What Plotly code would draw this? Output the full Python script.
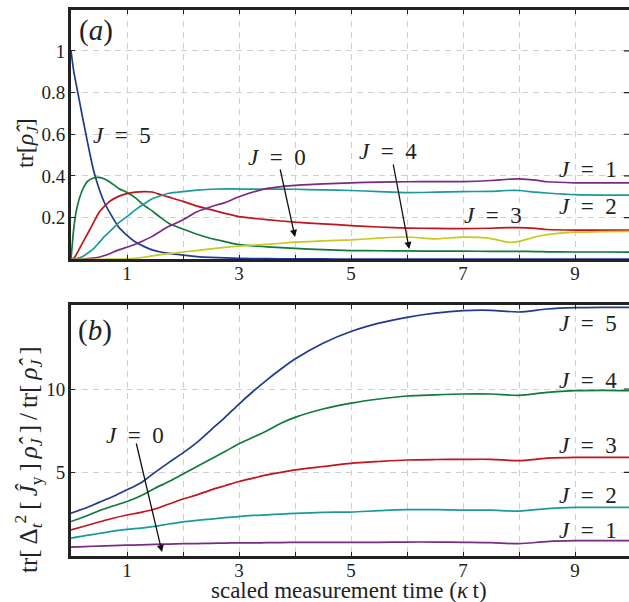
import plotly.graph_objects as go

# ---------------- data: panel (a) ----------------
t_a = [0, 0.05, 0.1, 0.2, 0.3, 0.4, 0.5, 0.6, 0.7, 0.85, 1.0, 1.15, 1.3, 1.45, 1.6, 1.75,
       2.0, 2.25, 2.5, 2.75, 3.0, 3.5, 4.0, 4.5, 5.0, 5.5, 6.0, 6.5, 7.0, 7.5, 7.8, 8.0,
       8.3, 8.5, 9.0, 9.5, 10.0]
tr_J5 = [1.0, 0.9, 0.83, 0.69, 0.555, 0.43, 0.34, 0.27, 0.22, 0.155, 0.115, 0.083, 0.062,
         0.045, 0.035, 0.028, 0.02, 0.013, 0.009, 0.007, 0.005, 0.003, 0.002, 0.002, 0.001,
         0.001, 0.001, 0.001, 0.001, 0.001, 0.001, 0.001, 0.001, 0.001, 0.001, 0.001, 0.001]
tr_J4 = [0.0, 0.15, 0.24, 0.33, 0.375, 0.39, 0.393, 0.385, 0.37, 0.34, 0.32, 0.295, 0.26,
         0.232, 0.2, 0.172, 0.145, 0.12, 0.1, 0.085, 0.07, 0.06, 0.052, 0.046, 0.042, 0.041,
         0.04, 0.039, 0.039, 0.038, 0.038, 0.038, 0.037, 0.036, 0.035, 0.035, 0.034]
tr_J3 = [0.0, 0.005, 0.025, 0.075, 0.125, 0.175, 0.225, 0.255, 0.28, 0.302, 0.315, 0.322,
         0.325, 0.323, 0.31, 0.298, 0.278, 0.255, 0.238, 0.22, 0.205, 0.19, 0.178, 0.17,
         0.162, 0.155, 0.15, 0.148, 0.147, 0.149, 0.152, 0.152, 0.148, 0.143, 0.14, 0.14, 0.14]
tr_J2 = [0.0, 0.0, 0.003, 0.012, 0.03, 0.05, 0.08, 0.11, 0.135, 0.175, 0.205, 0.237, 0.265,
         0.29, 0.305, 0.317, 0.325, 0.332, 0.336, 0.338, 0.337, 0.337, 0.336, 0.333, 0.33,
         0.325, 0.32, 0.322, 0.325, 0.326, 0.33, 0.33, 0.322, 0.318, 0.31, 0.308, 0.308]
tr_J1 = [0.0, 0.0, 0.0, 0.001, 0.003, 0.006, 0.01, 0.018, 0.028, 0.045, 0.058, 0.072, 0.09,
         0.11, 0.135, 0.158, 0.19, 0.228, 0.252, 0.272, 0.3, 0.34, 0.355, 0.362, 0.367, 0.37,
         0.372, 0.373, 0.373, 0.378, 0.384, 0.386, 0.38, 0.372, 0.367, 0.367, 0.367]
tr_J0 = [0.0, 0.0, 0.0, 0.0, 0.0, 0.0, 0.0, 0.0, 0.001, 0.001, 0.002, 0.005, 0.01, 0.016,
         0.022, 0.027, 0.035, 0.042, 0.05, 0.057, 0.063, 0.072, 0.082, 0.088, 0.093, 0.102,
         0.107, 0.098, 0.106, 0.099, 0.082, 0.086, 0.108, 0.118, 0.13, 0.133, 0.134]

# ---------------- data: panel (b) ----------------
t_b = [0, 0.25, 0.5, 0.75, 1.0, 1.25, 1.5, 1.75, 2.0, 2.25, 2.5, 2.75, 3.0, 3.25, 3.5,
       3.75, 4.0, 4.5, 5.0, 5.5, 6.0, 6.5, 7.0, 7.5, 8.0, 8.5, 9.0, 9.5, 10.0]
var_J5 = [2.55, 2.85, 3.2, 3.55, 3.95, 4.38, 5.0, 5.6, 6.17, 6.8, 7.55, 8.3, 9.1, 9.85,
          10.55, 11.2, 11.8, 12.75, 13.45, 13.95, 14.3, 14.55, 14.7, 14.72, 14.62, 14.8,
          14.88, 14.9, 14.9]
var_J4 = [2.05, 2.35, 2.7, 2.98, 3.25, 3.6, 4.05, 4.45, 4.9, 5.35, 5.8, 6.25, 6.72, 7.1,
          7.5, 7.95, 8.3, 8.8, 9.15, 9.4, 9.58, 9.65, 9.7, 9.7, 9.62, 9.8, 9.9, 9.92, 9.9]
var_J3 = [1.55, 1.78, 2.02, 2.25, 2.44, 2.6, 2.8, 3.1, 3.4, 3.65, 3.95, 4.2, 4.45, 4.65,
          4.85, 5.0, 5.15, 5.35, 5.54, 5.65, 5.74, 5.77, 5.78, 5.78, 5.7, 5.85, 5.9, 5.9, 5.9]
var_J2 = [1.05, 1.2, 1.33, 1.47, 1.58, 1.66, 1.76, 1.9, 2.03, 2.12, 2.2, 2.28, 2.35, 2.42,
          2.45, 2.5, 2.54, 2.6, 2.62, 2.7, 2.76, 2.76, 2.74, 2.73, 2.68, 2.83, 2.9, 2.9, 2.9]
var_J1 = [0.52, 0.55, 0.58, 0.6, 0.63, 0.65, 0.68, 0.7, 0.72, 0.73, 0.74, 0.76, 0.77, 0.77,
          0.78, 0.79, 0.8, 0.8, 0.8, 0.8, 0.82, 0.82, 0.8, 0.78, 0.72, 0.85, 0.9, 0.9, 0.9]

x_ticks = [1, 2, 3, 4, 5, 6, 7, 8, 9]
x_ticktext = ["1", " ", "3", " ", "5", " ", "7", " ", "9"]
ya_ticks = [0.2, 0.4, 0.6, 0.8, 1.0]
ya_ticktext = ["0.2", "0.4", "0.6", "0.8", "1"]
yb_ticks = [5, 10]
yb_ticktext = ["5", "10"]

# ---------------- style ----------------
FONT = "Liberation Serif, Times New Roman, serif"
TXT = "#222222"
FRAME = "#222222"
GRID = "#cfcfcf"
C = {"J5": "#1f3a8f", "J4": "#0f7a3a", "J3": "#c0141e", "J2": "#1c9a9a",
     "J1": "#7b2a83", "J0": "#c8c81e"}
LW = 1.7

W, H = 629, 602
X0, XR = 71, 56.0          # pixel of t=0, pixels per unit
xmax = (W - X0) / XR

fig = go.Figure()

series_a = [("J5", tr_J5), ("J4", tr_J4), ("J3", tr_J3), ("J2", tr_J2), ("J1", tr_J1), ("J0", tr_J0)]
for key, ys in series_a:
    fig.add_trace(go.Scatter(x=t_a, y=ys, mode="lines", line=dict(color=C[key], width=LW, shape="spline", smoothing=0.6),
                             xaxis="x", yaxis="y", showlegend=False, hoverinfo="skip"))

series_b = [("J5", var_J5), ("J4", var_J4), ("J3", var_J3), ("J2", var_J2), ("J1", var_J1)]
for key, ys in series_b:
    fig.add_trace(go.Scatter(x=t_b, y=ys, mode="lines", line=dict(color=C[key], width=LW, shape="spline", smoothing=0.8),
                             xaxis="x2", yaxis="y2", showlegend=False, hoverinfo="skip"))

xdom = [X0 / W, 1.0]
ydom_a = [1 - 259.3 / H, 1 - 10 / H]
ydom_b = [1 - 555.7 / H, 1 - 305 / H]

common_x = dict(range=[0, xmax], domain=xdom, tickmode="array", tickvals=x_ticks, ticktext=x_ticktext,
                showgrid=True, gridcolor=GRID, griddash="6px,5px", gridwidth=1,
                showline=True, linecolor=FRAME, linewidth=3, mirror="ticks",
                ticks="inside", ticklen=4, tickcolor=FRAME, tickwidth=1, ticklabelstandoff=-5,
                tickfont=dict(family=FONT, size=19, color=TXT), zeroline=False)
common_y = dict(showgrid=True, gridcolor=GRID, griddash="6px,5px", gridwidth=1,
                showline=True, linecolor=FRAME, linewidth=3, mirror=False,
                ticks="inside", ticklen=4, tickcolor=FRAME, tickwidth=1, ticklabelstandoff=-1,
                tickfont=dict(family=FONT, size=19, color=TXT), zeroline=False)

fig.update_layout(
    width=W, height=H, margin=dict(l=0, r=0, t=0, b=0),
    paper_bgcolor="white", plot_bgcolor="white",
    xaxis=dict(anchor="y", **common_x),
    yaxis=dict(anchor="x", domain=ydom_a, range=[0, 1.196], tickmode="array",
               tickvals=ya_ticks, ticktext=ya_ticktext, **common_y),
    xaxis2=dict(anchor="y2", **common_x),
    yaxis2=dict(anchor="x2", domain=ydom_b, range=[0, 15.04], tickmode="array",
                tickvals=yb_ticks, ticktext=yb_ticktext, **common_y),
)

# right-edge inner ticks (no right frame line visible in the original)
shapes = []
for v in ya_ticks:
    shapes.append(dict(type="line", xref="x domain", yref="y", x0=1 - 5 / (W - X0), x1=1, y0=v, y1=v,
                       line=dict(color=FRAME, width=1.2)))
for v in yb_ticks:
    shapes.append(dict(type="line", xref="x2 domain", yref="y2", x0=1 - 5 / (W - X0), x1=1, y0=v, y1=v,
                       line=dict(color=FRAME, width=1.2)))
fig.update_layout(shapes=shapes)

ann = []
def lab(text, x, y, xref, yref, size=23):
    ann.append(dict(text=text, x=x, y=y, xref=xref, yref=yref, showarrow=False,
                    font=dict(family=FONT, size=size, color=TXT), xanchor="center", yanchor="middle"))

def arrow(xh, yh, xt, yt, xref, yref):
    ann.append(dict(text="", x=xh, y=yh, ax=xt, ay=yt, xref=xref, yref=yref, axref=xref, ayref=yref,
                    showarrow=True, arrowhead=2, arrowsize=1.1, arrowwidth=1.3, arrowcolor="#111111"))

EQ = "\u2002=\u2002"
# panel (a)
lab("(<i>a</i>)", 96 / W, 1 - 31 / H, "paper", "paper", size=29)
lab("<i>J</i>" + EQ + "5", 0.91, 0.596, "x", "y")
lab("<i>J</i>" + EQ + "0", 3.68, 0.49, "x", "y")
lab("<i>J</i>" + EQ + "4", 5.66, 0.515, "x", "y")
lab("<i>J</i>" + EQ + "1", 9.23, 0.433, "x", "y")
lab("<i>J</i>" + EQ + "2", 9.23, 0.251, "x", "y")
lab("<i>J</i>" + EQ + "3", 7.54, 0.208, "x", "y")
arrow(4.0, 0.107, 3.73, 0.438, "x", "y")
arrow(6.04, 0.049, 5.75, 0.462, "x", "y")
# panel (b)
lab("(<i>b</i>)", 95 / W, 1 - 330 / H, "paper", "paper", size=29)
lab("<i>J</i>" + EQ + "0", 1.14, 7.24, "x2", "y2")
lab("<i>J</i>" + EQ + "5", 9.23, 13.96, "x2", "y2")
lab("<i>J</i>" + EQ + "4", 9.23, 10.54, "x2", "y2")
lab("<i>J</i>" + EQ + "3", 9.23, 6.64, "x2", "y2")
lab("<i>J</i>" + EQ + "2", 9.23, 3.64, "x2", "y2")
lab("<i>J</i>" + EQ + "1", 9.23, 1.54, "x2", "y2")
arrow(1.625, 0.22, 1.16, 6.82, "x2", "y2")

# axis titles
TS = "\u2009"
ann.append(dict(text="tr[<i>\u03c1\u0302</i><sub><i>J</i></sub>]", x=27 / W, y=1 - 143 / H,
                xref="paper", yref="paper", showarrow=False, textangle=-90,
                font=dict(family=FONT, size=24, color=TXT), xanchor="center", yanchor="middle"))
ann.append(dict(text="tr[" + TS + "\u0394<sub><i>t</i></sub><sup>2</sup>" + TS + "[" + TS + "<i>\u0134</i><sub>y</sub>" + TS + "]" + TS
                + "<i>\u03c1\u0302</i><sub><i>J</i></sub>" + TS + "]" + TS + "/" + TS + "tr[" + TS + "<i>\u03c1\u0302</i><sub><i>J</i></sub>" + TS + "]",
                x=28 / W, y=1 - 460 / H, xref="paper", yref="paper", showarrow=False, textangle=-90,
                font=dict(family=FONT, size=25, color=TXT), xanchor="center", yanchor="middle"))
ann.append(dict(text="scaled measurement time (<i>\u03ba</i>" + TS + "t)", x=349 / W, y=1 - 590 / H,
                xref="paper", yref="paper", showarrow=False,
                font=dict(family=FONT, size=23, color=TXT), xanchor="center", yanchor="middle"))
fig.update_layout(annotations=ann)

fig.write_html("out.html", config={"displayModeBar": False},
               post_script="document.body.style.margin='0';document.body.style.overflow='hidden';")
